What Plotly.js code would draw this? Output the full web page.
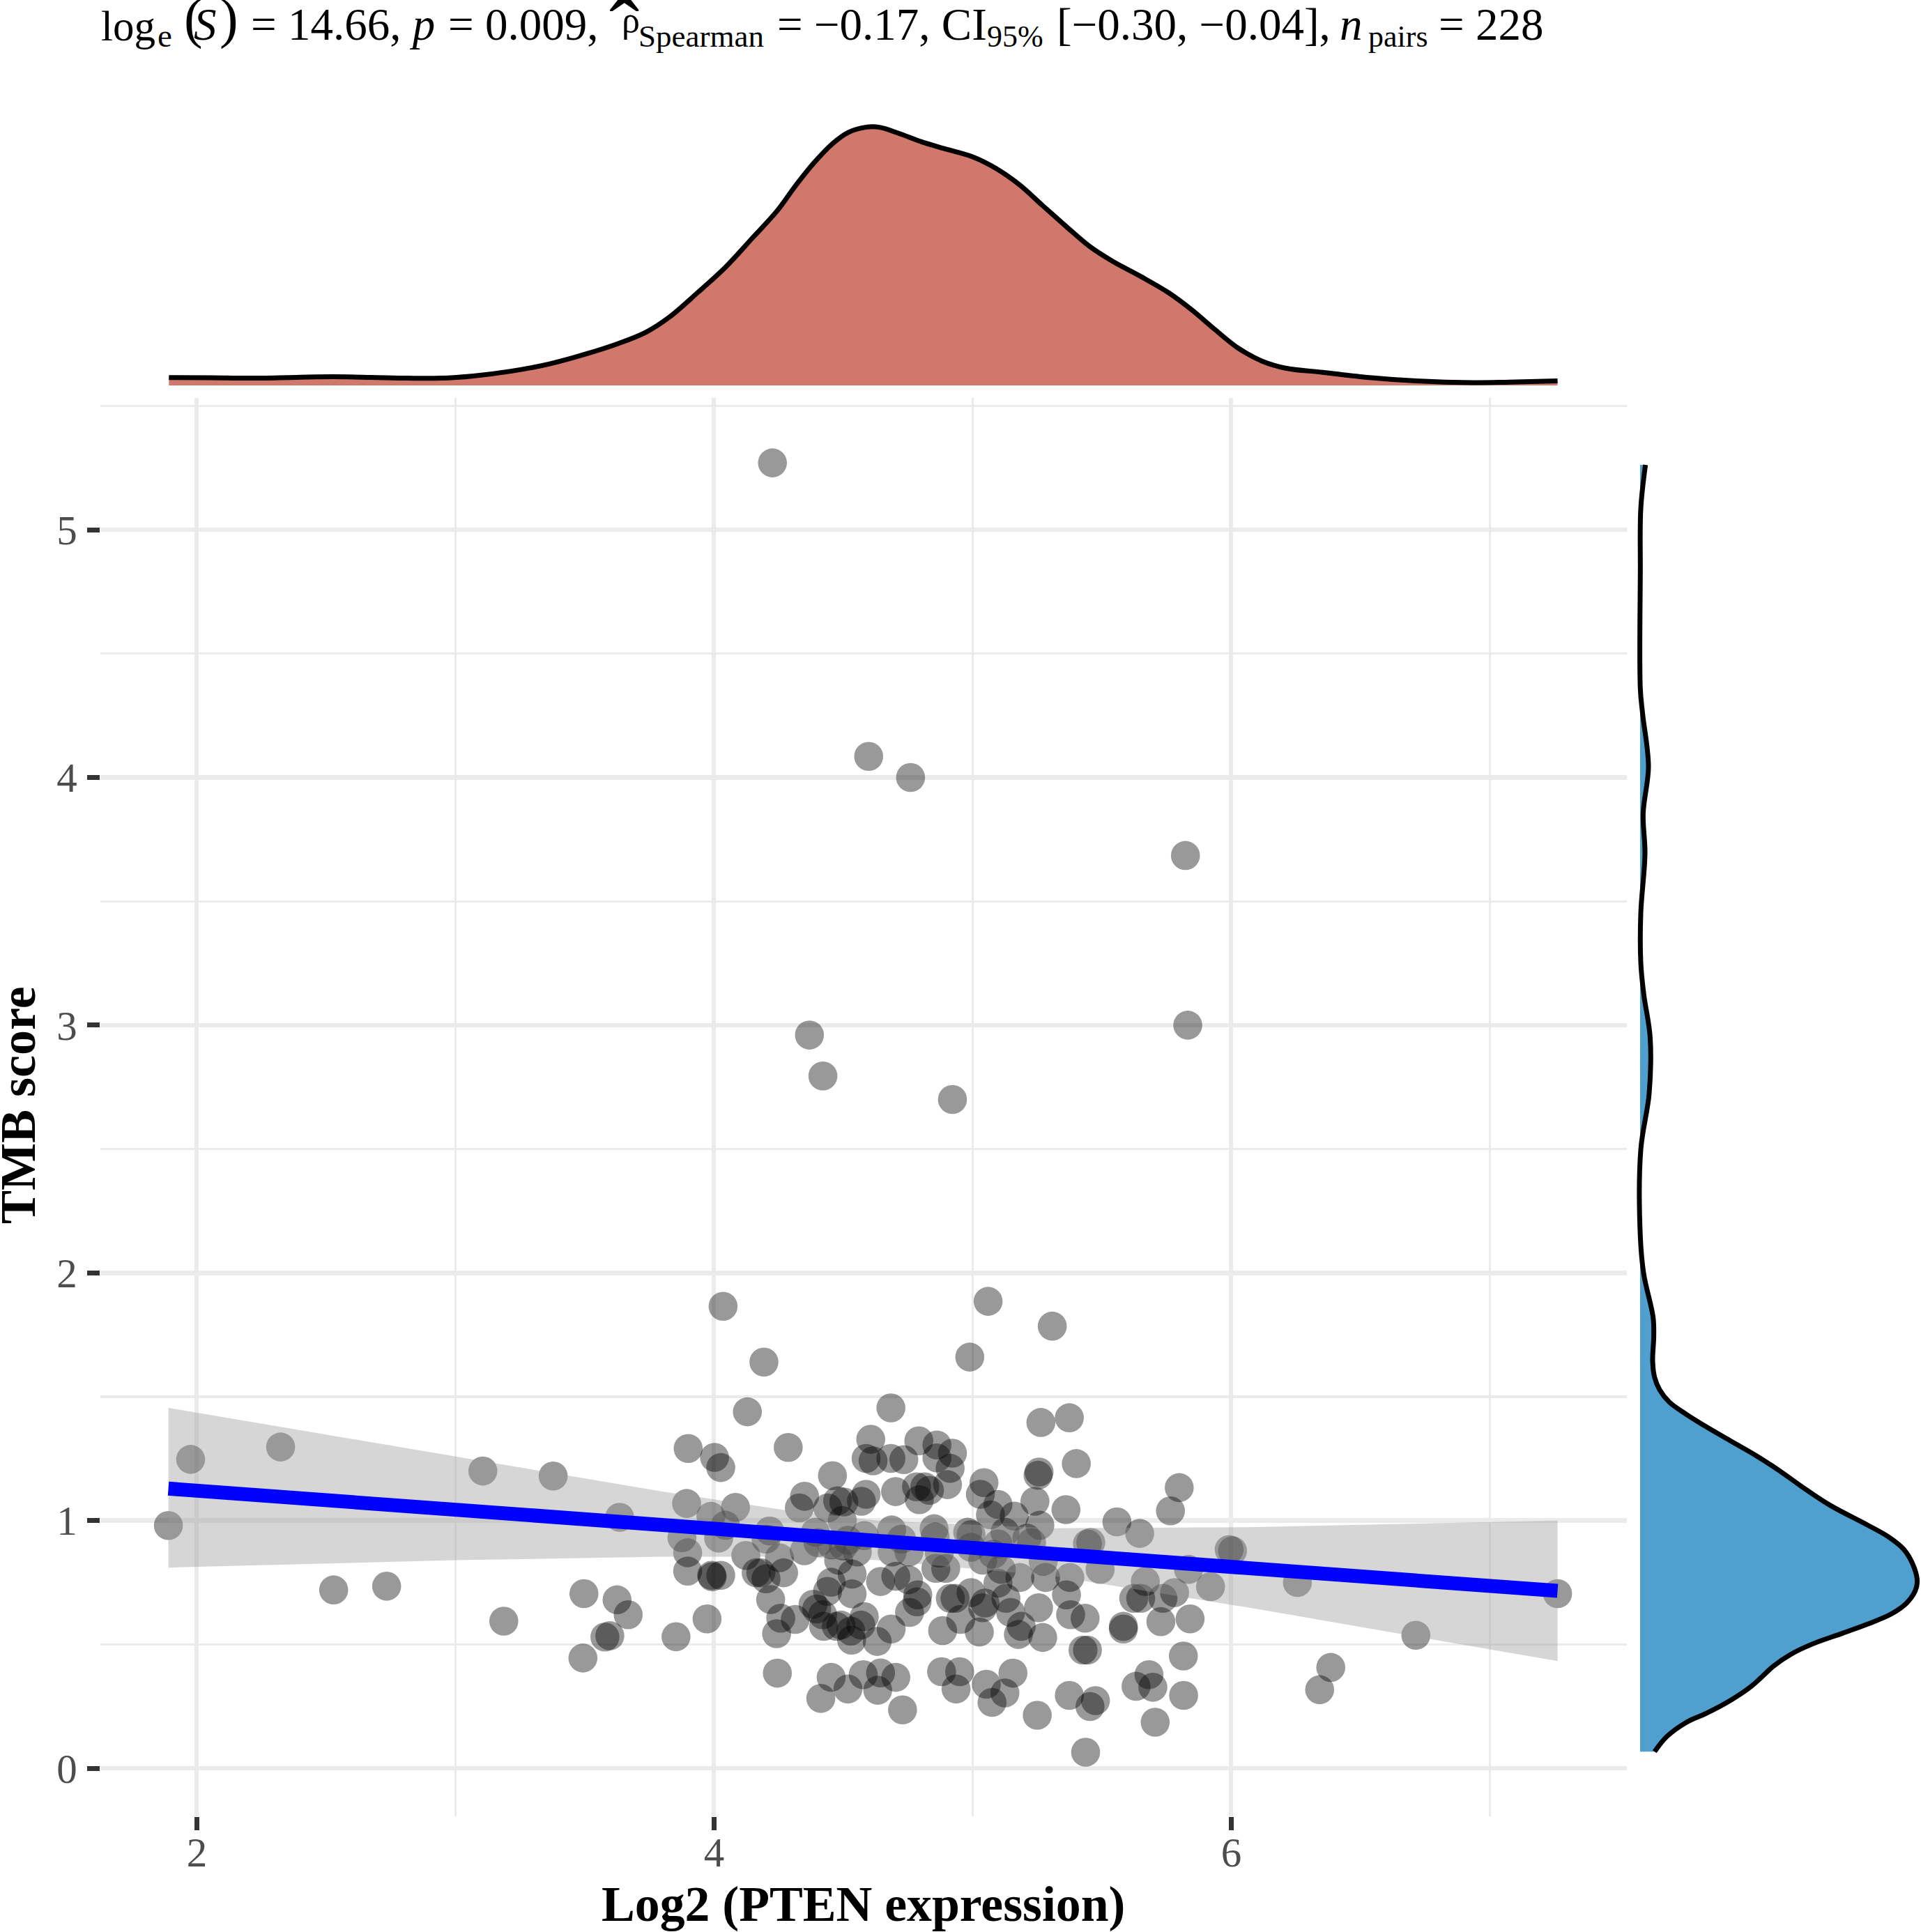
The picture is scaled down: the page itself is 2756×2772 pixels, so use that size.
<!DOCTYPE html>
<html>
<head>
<meta charset="utf-8">
<script src="https://cdn.plot.ly/plotly-3.0.1.min.js"></script>
<style>html,body{margin:0;padding:0;background:#fff}</style>
</head>
<body>
<div id="chart" style="width:2756px;height:2772px"></div>
<script>
const pten = [3.900,4.002,4.026,4.287,4.129,4.684,4.606,4.588,4.615,4.684,4.734,4.792,4.862,4.862,4.922,4.913,4.458,4.350,4.330,4.440,4.478,4.502,4.588,4.570,4.702,4.783,4.815,4.833,4.794,4.903,3.894,4.083,3.988,4.044,4.215,3.876,3.898,4.018,4.392,4.496,4.201,4.349,4.123,4.253,4.402,3.898,3.991,3.993,4.026,4.163,4.181,4.201,4.269,4.581,4.687,4.725,4.689,4.754,4.851,4.855,4.871,4.482,4.554,4.500,4.534,4.453,4.439,4.534,4.644,4.703,4.752,4.788,4.219,4.383,4.896,4.858,4.455,4.518,
3.853,3.973,4.258,4.314,4.242,4.397,4.424,4.473,4.420,4.491,4.532,4.529,4.581,4.568,4.685,4.631,4.756,4.785,4.884,4.914,4.954,4.245,4.453,4.413,4.577,4.518,4.644,4.703,4.633,4.729,4.880,4.950,4.936,
5.264,5.374,5.401,5.257,5.253,5.799,5.765,5.044,5.030,5.098,5.069,5.161,5.241,5.361,5.260,5.558,5.646,5.125,4.981,4.994,5.098,5.210,5.228,5.457,5.444,5.992,6.005,4.994,5.493,5.273,5.282,5.376,5.668,5.835,5.920,5.183,5.111,5.039,5.080,5.098,5.781,5.650,5.623,4.994,5.129,
5.026,4.932,5.048,5.039,5.147,5.188,5.177,5.255,5.271,5.363,5.379,5.435,5.427,5.444,5.583,5.583,5.736,5.728,5.841,5.815,5.682,5.632,5.697,5.816,5.706,5.053,5.156,5.125,5.075,5.250,5.374,5.475,5.454,5.437,
4.226,4.598,4.760,5.823,4.369,4.421,4.922,5.832,4.035,5.060,5.308,4.989,4.193,1.890,1.976,2.324,2.529,2.734,3.106,3.187,3.378,3.635,3.497,3.625,3.668,3.578,3.597,3.493,6.256,6.714,6.385,6.342,7.262];
const tmb = [1.291,1.255,1.214,1.295,1.439,1.455,1.328,1.251,1.241,1.251,1.246,1.322,1.305,1.253,1.272,1.211,1.181,1.098,1.051,1.051,1.080,1.075,1.106,1.078,1.117,1.136,1.136,1.122,1.084,1.145,1.069,1.053,1.017,0.981,0.958,0.931,0.870,0.929,0.953,1.000,0.925,0.878,0.859,0.850,0.911,0.796,0.779,0.773,0.779,0.789,0.789,0.765,0.789,0.939,0.962,0.925,0.873,0.873,0.967,0.934,0.869,0.840,0.873,0.897,0.784,0.751,0.714,0.704,0.754,0.775,0.761,0.700,0.681,0.662,0.807,0.807,0.902,0.920,
0.531,0.603,0.606,0.601,0.543,0.643,0.573,0.573,0.620,0.578,0.517,0.554,0.612,0.578,0.562,0.512,0.629,0.672,0.556,0.686,0.601,0.384,0.367,0.282,0.378,0.320,0.385,0.367,0.315,0.236,0.390,0.390,0.320,
1.396,1.415,1.230,1.196,1.183,1.133,1.039,1.153,1.106,1.065,1.023,1.018,1.078,1.044,0.981,0.995,0.948,0.953,0.953,0.943,0.906,0.929,0.911,0.912,0.906,0.883,0.878,0.892,0.803,0.836,0.770,0.770,0.754,0.803,0.733,0.770,0.803,0.840,0.864,0.747,0.709,0.686,0.686,0.709,0.686,
0.550,0.686,0.667,0.648,0.629,0.573,0.540,0.648,0.528,0.700,0.620,0.606,0.477,0.477,0.573,0.562,0.686,0.592,0.603,0.453,0.378,0.331,0.327,0.294,0.186,0.339,0.384,0.304,0.266,0.214,0.294,0.273,0.249,0.065,
5.270,4.085,4.000,3.685,2.960,2.795,2.700,3.000,1.865,1.885,1.785,1.660,1.640,0.980,1.247,1.297,0.720,0.735,1.200,0.594,1.180,1.013,0.705,0.680,0.620,0.530,0.535,0.445,0.750,0.537,0.407,0.317,0.705];

const fitX = [1.89,7.262];
const fitY = [1.129,0.716];
const bandX = [1.89,3.0,3.8,4.276,4.635,5.318,6.06,7.262];
const bandUpper = [1.455,1.259,1.117,1.042,1.0,0.969,0.973,1.0];
const bandLower = [0.81,0.84,0.854,0.854,0.84,0.775,0.65,0.433];

const densTopX = [1.892,2.058,2.203,2.383,2.528,2.672,2.816,2.943,3.069,3.214,3.358,3.502,3.629,3.737,3.827,3.936,4.044,4.152,4.242,4.315,4.387,4.459,4.520,4.585,4.640,4.712,4.802,4.892,5.000,5.091,5.181,5.271,5.362,5.452,5.542,5.650,5.758,5.849,5.939,6.029,6.120,6.210,6.354,6.535,6.715,6.932,7.076,7.262];
const densTopV = [.028,.0275,.026,.029,.031,.029,.026,.026,.034,.051,.076,.112,.150,.191,.245,.3325,.424,.5325,.624,.716,.799,.868,.908,.926,.926,.905,.874,.849,.82,.778,.72,.645,.57,.499,.445,.391,.3325,.27,.199,.1325,.087,.062,.047,.028,.016,.01,.012,.016];

const densRightY = [.067,.128,.186,.222,.276,.330,.365,.411,.459,.502,.545,.581,.624,.667,.717,.753,.810,.882,.932,.983,1.062,1.141,1.198,1.263,1.320,1.378,1.428,1.478,1.528,1.578,1.643,1.743,1.820,1.996,2.147,2.498,2.724,2.951,3.126,3.252,3.453,3.692,3.855,4.044,4.257,4.358,4.835,5.086,5.262];
const densRightV = [.052,.096,.167,.238,.327,.398,.433,.477,.539,.619,.726,.814,.903,.956,.987,.994,.983,.947,.894,.814,.681,.575,.504,.415,.327,.238,.167,.105,.070,.052,.045,.049,.0467,.013,.0008,.0025,.0325,.036,.013,.0025,.0025,.0175,.011,.030,.009,.0008,.0008,.0025,.0192];

const xTicks = [2,4,6];
const yTicks = [0,1,2,3,4,5];
const xTitle = "Log2 (PTEN expression)";
const yTitle = "TMB score";

const W = 2756, H = 2772;
const px = v => v / W;
const py = v => 1 - v / H;
const serif = "'Liberation Serif','Times New Roman',serif";

const traces = [
  {x: pten, y: tmb, mode: 'markers', type: 'scatter', xaxis: 'x', yaxis: 'y',
   marker: {size: 41.6, color: '#000000', opacity: 0.4, line: {width: 0}}},
  {x: bandX.concat(bandX.slice().reverse()), y: bandUpper.concat(bandLower.slice().reverse()),
   mode: 'lines', type: 'scatter', fill: 'toself', fillcolor: 'rgba(153,153,153,0.4)', line: {width: 0, shape: 'linear'}, xaxis: 'x', yaxis: 'y'},
  {x: fitX, y: fitY, mode: 'lines', type: 'scatter', line: {color: '#0000ff', width: 20}, xaxis: 'x', yaxis: 'y'},
  {x: densTopX, y: densTopV, mode: 'lines', type: 'scatter', fill: 'tozeroy', fillcolor: '#cf786b',
   line: {color: '#000000', width: 7, shape: 'spline', smoothing: 1}, xaxis: 'x2', yaxis: 'y2'},
  {x: densRightV, y: densRightY, mode: 'lines', type: 'scatter', fill: 'tozerox', fillcolor: '#4f9fcf',
   line: {color: '#000000', width: 7, shape: 'spline', smoothing: 1}, xaxis: 'x3', yaxis: 'y3'}
];

const xRange = [1.6256, 7.530];
const yRange = [-0.194, 5.532];
const hidden = {visible: false, showgrid: false, zeroline: false, fixedrange: true};

function piece(text, x, bottom, size, extra) {
  return Object.assign({text: text, xref: 'paper', yref: 'paper', x: px(x), y: py(bottom),
    xanchor: 'left', yanchor: 'bottom', showarrow: false, borderpad: 0,
    font: {family: serif, size: size, color: '#000000'}}, extra || {});
}

const annotations = [
  piece('log', 144, 72, 61),
  piece('e', 225, 78, 47),
  piece('(', 263, 72, 80),
  piece('<i>S</i>', 277, 72, 65),
  piece(')', 314, 72, 80),
  piece('= 14.66, <i>p</i>', 359, 72, 65),
  piece('= 0.009,', 642, 72, 65),
  piece('ˆ', 873, 116, 130),
  piece('ρ', 891, 58, 52),
  piece('Spearman', 915, 78, 45),
  piece('= −0.17, CI', 1114, 72, 65),
  piece('95%', 1415, 78, 44),
  piece('[−0.30, −0.04],', 1515, 72, 65),
  piece('<i>n</i>', 1921, 72, 65),
  piece('pairs', 1962, 78, 44),
  piece('= 228', 2063, 72, 65),
  {text: '<b>' + yTitle + '</b>', xref: 'paper', yref: 'paper', x: px(26), y: py(1586),
   xanchor: 'center', yanchor: 'middle', textangle: -90, showarrow: false, borderpad: 0,
   font: {family: serif, size: 72, color: '#000000'}}
];

const layout = {
  width: W, height: H, margin: {l: 0, r: 0, t: 0, b: 0, pad: 0},
  paper_bgcolor: '#ffffff', plot_bgcolor: 'rgba(0,0,0,0)', showlegend: false,
  font: {family: serif},
  xaxis: {domain: [px(143.5), px(2334)], range: xRange, tickmode: 'array', tickvals: xTicks, ticktext: xTicks.map(String),
    showgrid: true, gridcolor: '#ebebeb', gridwidth: 6, zeroline: false, showline: false,
    minor: {tickmode: 'array', tickvals: [3,5,7], showgrid: true, gridcolor: '#ebebeb', gridwidth: 3.3, ticks: ''},
    ticks: 'outside', ticklen: 19, tickwidth: 7, tickcolor: '#333333',
    tickfont: {family: serif, size: 59, color: '#4d4d4d'}, ticklabelstandoff: -19,
    title: {text: '<b>' + xTitle + '</b>', font: {family: serif, size: 71.7, color: '#000000'}, standoff: 50},
    automargin: false, anchor: 'y', fixedrange: true},
  yaxis: {domain: [py(2606), py(571)], range: yRange, tickmode: 'array', tickvals: yTicks, ticktext: yTicks.map(String),
    showgrid: true, gridcolor: '#ebebeb', gridwidth: 6.5, zeroline: false, showline: false,
    minor: {tickmode: 'array', tickvals: [0.5,1.5,2.5,3.5,4.5,5.5], showgrid: true, gridcolor: '#ebebeb', gridwidth: 3.3, ticks: ''},
    ticks: 'outside', ticklen: 18, tickwidth: 7, tickcolor: '#333333',
    tickfont: {family: serif, size: 59, color: '#4d4d4d'}, ticklabelstandoff: 2,
    automargin: false, anchor: 'x', fixedrange: true},
  xaxis2: Object.assign({domain: [px(143.5), px(2334)], range: xRange, anchor: 'y2'}, hidden),
  yaxis2: Object.assign({domain: [py(553), py(153)], range: [0, 1], anchor: 'x2'}, hidden),
  xaxis3: Object.assign({domain: [px(2336), px(2756)], range: [-0.0425, 1.0075], anchor: 'y3'}, hidden),
  yaxis3: Object.assign({domain: [py(2606), py(571)], range: yRange, anchor: 'x3'}, hidden),
  annotations: annotations
};

Plotly.newPlot('chart', traces, layout, {displayModeBar: false, staticPlot: true});
</script>
</body>
</html>
